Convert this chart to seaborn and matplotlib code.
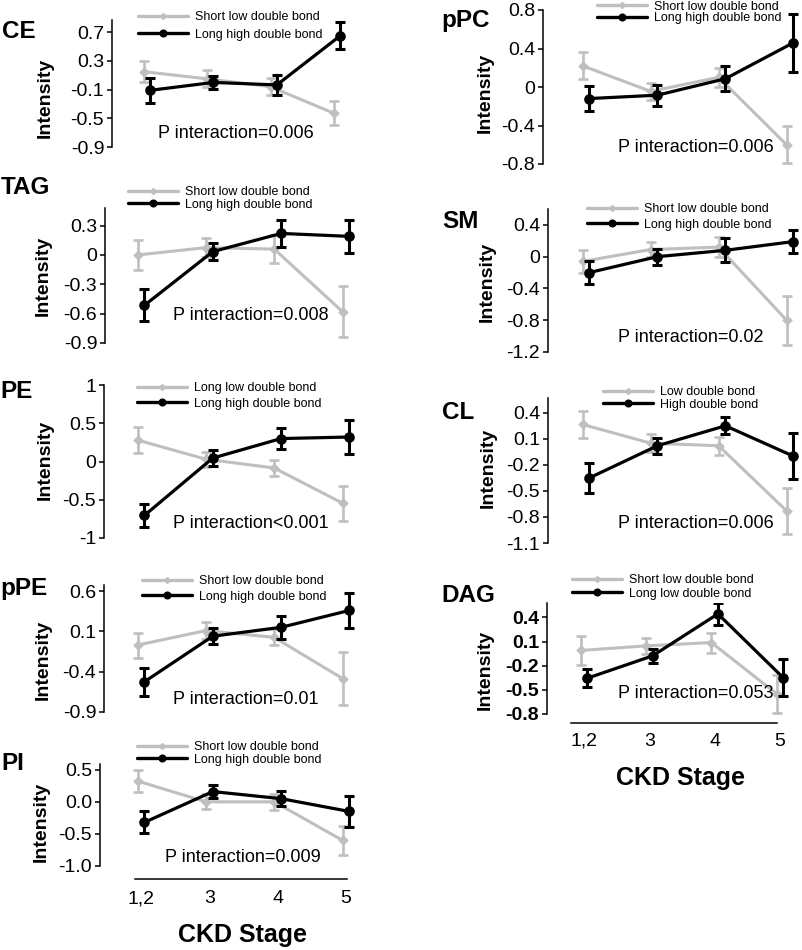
import numpy as np
import pandas as pd
import matplotlib
matplotlib.use("Agg")
import matplotlib.pyplot as plt
import seaborn as sns
from matplotlib.lines import Line2D

sns.set_theme(style="white")
plt.rcParams['font.family'] = ['Liberation Sans', 'DejaVu Sans']
plt.rcParams['axes.unicode_minus'] = False
plt.rcParams['text.color'] = 'black'
plt.rcParams['axes.labelcolor'] = 'black'
plt.rcParams['xtick.color'] = 'black'
plt.rcParams['ytick.color'] = 'black'
plt.rcParams['axes.edgecolor'] = 'black'

W, H, DPI = 802, 950, 100

# ---------------- data ----------------
stages = ["1,2", "3", "4", "5"]

ce_short = [0.15, 0.05, -0.06, -0.43]
ce_short_err = [0.15, 0.12, 0.12, 0.17]
ce_long = [-0.11, 0.0, -0.035, 0.65]
ce_long_err = [0.17, 0.09, 0.145, 0.19]

tag_short = [0.0, 0.075, 0.06, -0.58]
tag_short_err = [0.15, 0.10, 0.14, 0.26]
tag_long = [-0.515, 0.034, 0.22, 0.19]
tag_long_err = [0.165, 0.09, 0.14, 0.165]

pe_short = [0.28, 0.03, -0.085, -0.545]
pe_short_err = [0.17, 0.10, 0.11, 0.23]
pe_long = [-0.705, 0.045, 0.30, 0.32]
pe_long_err = [0.145, 0.10, 0.135, 0.22]

ppe_short = [-0.07, 0.11, 0.025, -0.485]
ppe_short_err = [0.155, 0.11, 0.10, 0.33]
ppe_long = [-0.525, 0.04, 0.15, 0.36]
ppe_long_err = [0.175, 0.10, 0.145, 0.22]

pi_short = [0.325, 0.0, 0.0, -0.6]
pi_short_err = [0.17, 0.115, 0.12, 0.23]
pi_long = [-0.32, 0.16, 0.05, -0.15]
pi_long_err = [0.17, 0.095, 0.12, 0.24]

ppc_short = [0.22, -0.045, 0.10, -0.6]
ppc_short_err = [0.14, 0.09, 0.10, 0.19]
ppc_long = [-0.12, -0.085, 0.086, 0.46]
ppc_long_err = [0.13, 0.11, 0.13, 0.30]

sm_short = [-0.06, 0.09, 0.12, -0.8]
sm_short_err = [0.14, 0.10, 0.13, 0.31]
sm_long = [-0.2, 0.0, 0.08, 0.19]
sm_long_err = [0.14, 0.10, 0.15, 0.14]

cl_short = [0.265, 0.05, 0.02, -0.73]
cl_short_err = [0.16, 0.10, 0.105, 0.265]
cl_long = [-0.35, 0.02, 0.25, -0.10]
cl_long_err = [0.17, 0.09, 0.10, 0.265]

dag_short = [-0.01, 0.047, 0.088, -0.55]
dag_short_err = [0.18, 0.10, 0.125, 0.24]
dag_long = [-0.355, -0.077, 0.445, -0.35]
dag_long_err = [0.115, 0.087, 0.135, 0.23]

lab_sl = "Short low double bond"
lab_lh = "Long high double bond"

GRAY = "#bfbfbf"
BLACK = "#000000"
DODGE = 0.1

TICK_FS = 14
TITLE_FS = 17.5
INT_FS = 14
P_FS = 13
LEG_FS = 9
XLAB_FS = 18

fig = plt.figure(figsize=(W / DPI, H / DPI), dpi=DPI)


def fx(px):
    return px / W


def fy(py):
    return 1 - py / H


def panel(title, labels, short, short_err, long, long_err, yticks, yticklabels,
          ylim, geom, title_xy, inten_xy, ptext, ptext_xy, leg, bottom_axis=None,
          bold_ticks=False):
    L, top, bottom, p0, p3, R = geom
    u = (p3 - p0) / 3.0
    ax = fig.add_axes([fx(L), fy(bottom), fx(R) - fx(L), (bottom - top) / H])
    ax.set_facecolor("none")
    df = pd.DataFrame({
        "stage": stages * 2,
        "value": list(short) + list(long),
        "group": [labels[0]] * 4 + [labels[1]] * 4,
    })
    sns.pointplot(data=df, x="stage", y="value", hue="group", order=stages,
                  hue_order=list(labels), palette=[GRAY, BLACK],
                  markers=["D", "o"], linestyles=["-", "-"], dodge=DODGE,
                  errorbar=None, ax=ax, legend=False)
    gl, bl = None, None
    for ln in ax.lines:
        c = matplotlib.colors.to_hex(ln.get_color())
        if c == GRAY:
            gl = ln
        elif c == BLACK:
            bl = ln
    gl.set_linewidth(2.2); gl.set_markersize(3.4); gl.set_zorder(2)
    bl.set_linewidth(2.3); bl.set_markersize(5.6); bl.set_zorder(4)
    ax.errorbar(gl.get_xdata(), short, yerr=short_err, fmt="none", ecolor=GRAY,
                elinewidth=1.9, capsize=3.8, capthick=1.9, zorder=1.5)
    ax.errorbar(bl.get_xdata(), long, yerr=long_err, fmt="none", ecolor=BLACK,
                elinewidth=2.2, capsize=3.8, capthick=2.2, zorder=3)
    ax.set_xlim((L - p0) / u, (R - p0) / u)
    ax.set_ylim(*ylim)
    ax.set_yticks(yticks)
    ax.set_yticklabels(yticklabels, fontsize=TICK_FS, color="black",
                       fontweight="bold" if bold_ticks else "normal")
    ax.set_xlabel("")
    ax.set_ylabel("")
    for s in ["top", "right"]:
        ax.spines[s].set_visible(False)
    ax.spines["left"].set_color("black")
    ax.spines["left"].set_linewidth(1.1)
    ax.tick_params(axis="y", left=True, direction="out", length=3.6, width=1.1,
                   pad=2, colors="black")
    if bottom_axis is None:
        ax.spines["bottom"].set_visible(False)
        ax.set_xticks([])
    else:
        off, lo, hi, pad = bottom_axis
        sp = ax.spines["bottom"]
        sp.set_visible(True)
        sp.set_color("black")
        sp.set_linewidth(1.1)
        sp.set_position(("outward", off * 72 / DPI))
        sp.set_bounds((lo - p0) / u, (hi - p0) / u)
        ax.set_xticks(range(len(stages)))
        ax.set_xticklabels(stages, fontsize=TICK_FS, color="black")
        ax.tick_params(axis="x", bottom=True, length=0, pad=pad, colors="black")
    ax.grid(False)

    fig.text(fx(title_xy[0]), fy(title_xy[1]), title, fontsize=TITLE_FS,
             fontweight="bold", ha="left", va="center", color="black")
    fig.text(fx(inten_xy[0]), fy(inten_xy[1]), "Intensity", fontsize=INT_FS,
             fontweight="bold", rotation=90, ha="center", va="center",
             color="black")
    fig.text(fx(ptext_xy[0]), fy(ptext_xy[1]), ptext, fontsize=P_FS,
             ha="left", va="center", color="black")

    lx, ly1, ly2 = leg
    fpx = LEG_FS * DPI / 72
    ls = max((ly2 - ly1) / fpx - 1.15, 0.0)
    handles = [
        Line2D([], [], color=GRAY, lw=2.4, marker="D", markersize=3),
        Line2D([], [], color=BLACK, lw=2.4, marker="o", markersize=4.8),
    ]
    fig.legend(handles, list(labels), loc="center left",
               bbox_to_anchor=(fx(lx), fy((ly1 + ly2) / 2)), frameon=False,
               fontsize=LEG_FS, handlelength=4.0, handletextpad=0.55,
               labelspacing=ls, borderpad=0, borderaxespad=0, numpoints=1,
               labelcolor="black")
    return ax


# ---------------- left column ----------------
panel("CE", (lab_sl, lab_lh), ce_short, ce_short_err, ce_long, ce_long_err,
      [0.7, 0.3, -0.1, -0.5, -0.9], ["0.7", "0.3", "-0.1", "-0.5", "-0.9"],
      (-0.9, 0.87), (112, 20, 147, 147, 337, 362), (2, 31), (45, 98),
      "P interaction=0.006", (158, 133), (138, 16, 36))

panel("TAG", (lab_sl, lab_lh), tag_short, tag_short_err, tag_long, tag_long_err,
      [0.3, 0.0, -0.3, -0.6, -0.9], ["0.3", "0", "-0.3", "-0.6", "-0.9"],
      (-0.9, 0.48), (105, 208, 343, 141, 346, 370), (1, 188), (43, 276),
      "P interaction=0.008", (173, 316), (128, 191, 206))

panel("PE", ("Long low double bond", lab_lh), pe_short, pe_short_err, pe_long,
      pe_long_err, [1, 0.5, 0, -0.5, -1], ["1", "0.5", "0", "-0.5", "-1"],
      (-1.0, 1.0), (104, 385, 538, 141, 346, 370), (0, 391), (45, 460),
      "P interaction<0.001", (173, 523), (137, 387, 405))

panel("pPE", (lab_sl, lab_lh), ppe_short, ppe_short_err, ppe_long, ppe_long_err,
      [0.6, 0.1, -0.4, -0.9], ["0.6", "0.1", "-0.4", "-0.9"],
      (-0.9, 0.675), (104, 585, 712, 141, 346, 370), (0, 589), (43, 660),
      "P interaction=0.01", (173, 700), (142, 580, 598))

panel("PI", (lab_sl, lab_lh), pi_short, pi_short_err, pi_long, pi_long_err,
      [0.5, 0.0, -0.5, -1.0], ["0.5", "0.0", "-0.5", "-1.0"],
      (-1.0, 0.59), (100, 764, 866, 141, 346, 370), (1, 763), (41, 822),
      "P interaction=0.009", (165, 858), (137, 747, 760),
      bottom_axis=(13, 135, 347, 8))

fig.text(fx(243), fy(935), "CKD Stage", fontsize=XLAB_FS, fontweight="bold",
         ha="center", va="center", color="black")

# ---------------- right column ----------------
panel("pPC", (lab_sl, lab_lh), ppc_short, ppc_short_err, ppc_long, ppc_long_err,
      [0.8, 0.4, 0.0, -0.4, -0.8], ["0.8", "0.4", "0", "-0.4", "-0.8"],
      (-0.8, 0.8), (543, 10, 164, 586, 790, 801), (441, 21), (485, 93),
      "P interaction=0.006", (618, 147), (597, 6, 19))

panel("SM", (lab_sl, lab_lh), sm_short, sm_short_err, sm_long, sm_long_err,
      [0.4, 0.0, -0.4, -0.8, -1.2], ["0.4", "0", "-0.4", "-0.8", "-1.2"],
      (-1.2, 0.6), (548, 209, 352, 586, 790, 801), (442, 222), (487, 282),
      "P interaction=0.02", (618, 338), (587, 208, 226))

panel("CL", ("Low double bond", "High double bond"), cl_short, cl_short_err,
      cl_long, cl_long_err,
      [0.4, 0.1, -0.2, -0.5, -0.8, -1.1],
      ["0.4", "0.1", "-0.2", "-0.5", "-0.8", "-1.1"],
      (-1.1, 0.57), (548, 398, 543, 586, 790, 801), (442, 413), (488, 468),
      "P interaction=0.006", (618, 524), (603, 391, 406))

panel("DAG", (lab_sl, "Long low double bond"), dag_short, dag_short_err,
      dag_long, dag_long_err,
      [0.4, 0.1, -0.2, -0.5, -0.8], ["0.4", "0.1", "-0.2", "-0.5", "-0.8"],
      (-0.8, 0.58), (547, 603, 714, 584, 780, 801), (441, 595), (485, 670),
      "P interaction=0.053", (618, 693), (572, 579, 595),
      bottom_axis=(9, 571, 777, 7), bold_ticks=True)

fig.text(fx(680), fy(778), "CKD Stage", fontsize=XLAB_FS, fontweight="bold",
         ha="center", va="center", color="black")

fig.savefig("out.png", dpi=DPI)
